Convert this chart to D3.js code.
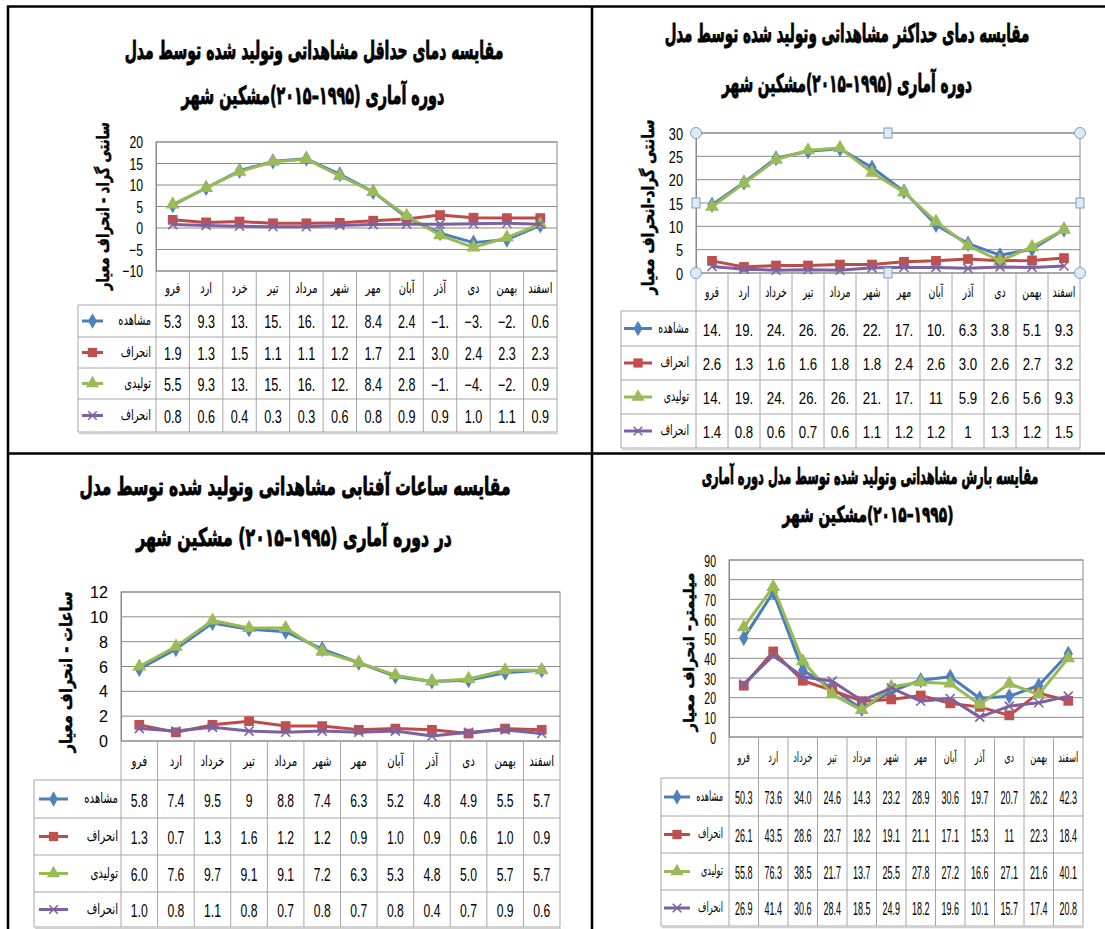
<!DOCTYPE html>
<html><head><meta charset="utf-8">
<script src="https://cdn.jsdelivr.net/npm/d3@7"></script>
<style>
body{margin:0;background:#fff;}
svg{display:block}
</style></head><body>
<svg id="c" width="1105" height="929"></svg>
<script>
// ---------------- DATA ----------------
const monthsShort = ["فرو","ارد","خرد","تیر","مرداد","شهر","مهر","آبان","آذر","دی","بهمن","اسفند"];
const monthsLong  = ["فرو","ارد","خرداد","تیر","مرداد","شهر","مهر","آبان","آذر","دی","بهمن","اسفند"];
const seriesNames = ["مشاهده","انحراف","تولیدی","انحراف"];

// Panel 1: minimum temperature
const minObs   = [5.3, 9.3, 13.3, 15.5, 16.1, 12.5, 8.4, 2.4, -1.2, -3.4, -2.7, 0.6];
const minObsSd = [1.9, 1.3, 1.5, 1.1, 1.1, 1.2, 1.7, 2.1, 3.0, 2.4, 2.3, 2.3];
const minGen   = [5.5, 9.3, 13.1, 15.4, 16.0, 12.1, 8.4, 2.8, -1.7, -4.5, -2.2, 0.9];
const minGenSd = [0.8, 0.6, 0.4, 0.3, 0.3, 0.6, 0.8, 0.9, 0.9, 1.0, 1.1, 0.9];
const minTicks = [-10, -5, 0, 5, 10, 15, 20];

// Panel 2: maximum temperature
const maxObs   = [14.6, 19.4, 24.6, 26.1, 26.6, 22.6, 17.5, 10.3, 6.3, 3.8, 5.1, 9.3];
const maxObsSd = [2.6, 1.3, 1.6, 1.6, 1.8, 1.8, 2.4, 2.6, 3.0, 2.6, 2.7, 3.2];
const maxGen   = [14.2, 19.2, 24.3, 26.3, 26.8, 21.5, 17.3, 11, 5.9, 2.6, 5.6, 9.3];
const maxGenSd = [1.4, 0.8, 0.6, 0.7, 0.6, 1.1, 1.2, 1.2, 1, 1.3, 1.2, 1.5];
const maxTicks = [0, 5, 10, 15, 20, 25, 30];

// Panel 3: sunshine hours
const sunObs   = [5.8, 7.4, 9.5, 9, 8.8, 7.4, 6.3, 5.2, 4.8, 4.9, 5.5, 5.7];
const sunObsSd = [1.3, 0.7, 1.3, 1.6, 1.2, 1.2, 0.9, 1.0, 0.9, 0.6, 1.0, 0.9];
const sunGen   = [6.0, 7.6, 9.7, 9.1, 9.1, 7.2, 6.3, 5.3, 4.8, 5.0, 5.7, 5.7];
const sunGenSd = [1.0, 0.8, 1.1, 0.8, 0.7, 0.8, 0.7, 0.8, 0.4, 0.7, 0.9, 0.6];
const sunTicks = [0, 2, 4, 6, 8, 10, 12];

// Panel 4: precipitation
const rainObs   = [50.3, 73.6, 34.0, 24.6, 14.3, 23.2, 28.9, 30.6, 19.7, 20.7, 26.2, 42.3];
const rainObsSd = [26.1, 43.5, 28.6, 23.7, 18.2, 19.1, 21.1, 17.1, 15.3, 11, 22.3, 18.4];
const rainGen   = [55.8, 76.3, 38.5, 21.7, 13.7, 25.5, 27.8, 27.2, 16.6, 27.1, 21.6, 40.1];
const rainGenSd = [26.9, 41.4, 30.6, 28.4, 18.5, 24.9, 18.2, 19.6, 10.1, 15.7, 17.4, 20.8];
const rainTicks = [0, 10, 20, 30, 40, 50, 60, 70, 80, 90];

const titles1 = ["مقایسه دمای حداقل مشاهداتی وتولید شده توسط مدل", "دوره آماری (۱۹۹۵–۲۰۱۵)مشکین شهر"];
const titles2 = ["مقایسه دمای حداکثر مشاهداتی وتولید شده توسط مدل", "دوره آماری (۱۹۹۵–۲۰۱۵)مشکین شهر"];
const titles3 = ["مقایسه ساعات آفتابی  مشاهداتی وتولید شده توسط مدل", "در دوره آماری (۱۹۹۵–۲۰۱۵) مشکین شهر"];
const titles4 = ["مقایسه بارش مشاهداتی وتولید شده توسط مدل دوره آماری", "(۱۹۹۵–۲۰۱۵)مشکین شهر"];
const yTitles = ["سانتی گراد - انحراف معیار", "سانتی گراد-انحراف معیار", "ساعات - انحراف معیار", "میلیمتر- انحراف معیار"];

// ---------------- STYLE / LAYOUT ----------------
const styles = [
  {line:"#4A7EBB", fill:"#4F81BD", marker:"diamond"},
  {line:"#BE4B48", fill:"#C0504D", marker:"square"},
  {line:"#98B954", fill:"#9BBB59", marker:"triangle"},
  {line:"#7D60A0", fill:"#8064A2", marker:"x"}
];
const AR = "'DejaVu Sans', sans-serif";
const NUM = "'Liberation Sans', Arial, sans-serif";

const panels = [
  {cats:monthsShort, series:[minObs,minObsSd,minGen,minGenSd], fmts:[".1f",".1f",".1f",".1f"], ticks:minTicks,
   x0:156, x1:557, yTop:142, yBot:271, tableLeft:78, rows:[305,337,368,399,432], maxChars:3,
   title:titles1, tX:[314,313], tY:[50,95], tW:[379,263], tFs:25,
   yTitle:yTitles[0], ytX:103, ytY:206, ytL:168, ytFs:17,
   numFs:18, numSx:0.7, tickFs:17, tickSx:0.72, catFs:15, catSx:0.66, legX:[82,103], legTx:151, handles:false},
  {cats:monthsLong, series:[maxObs,maxObsSd,maxGen,maxGenSd], fmts:[".1f",".1f",".1~f",".1~f"], ticks:maxTicks,
   x0:696, x1:1080, yTop:133, yBot:273, tableLeft:621, rows:[311,346,380,414,448], maxChars:3,
   title:titles2, tX:[847,847], tY:[33,83], tW:[365,250], tFs:25,
   yTitle:yTitles[1], ytX:649, ytY:207, ytL:175, ytFs:17,
   numFs:17, numSx:0.78, tickFs:17, tickSx:0.75, catFs:15, catSx:0.62, legX:[624,652], legTx:689, handles:true},
  {cats:monthsLong, series:[sunObs,sunObsSd,sunGen,sunGenSd], fmts:[".1~f",".1f",".1f",".1f"], ticks:sunTicks,
   x0:121, x1:560, yTop:592, yBot:741, tableLeft:34, rows:[780,818,855,892,927], maxChars:3,
   title:titles3, tX:[295,294], tY:[487,538], tW:[431,316], tFs:25,
   yTitle:yTitles[2], ytX:66, ytY:672, ytL:161, ytFs:17,
   numFs:19, numSx:0.64, tickFs:17, tickSx:0.95, catFs:15, catSx:0.68, legX:[39,68], legTx:118, handles:false},
  {cats:monthsLong, series:[rainObs,rainObsSd,rainGen,rainGenSd], fmts:[".1f",".1~f",".1f",".1f"], ticks:rainTicks,
   x0:729, x1:1083, yTop:560, yBot:737, tableLeft:661, rows:[778,816,853,890,926], maxChars:4,
   title:titles4, tX:[870,868], tY:[476,514], tW:[337,171], tFs:22,
   yTitle:yTitles[3], ytX:689, ytY:652, ytL:159, ytFs:15,
   numFs:18, numSx:0.5, tickFs:17, tickSx:0.62, catFs:14, catSx:0.58, legX:[664,690], legTx:723, handles:false}
];

const svg = d3.select("#c");

// scaled text helper: text drawn at origin inside a transformed group
function sText(parent, x, y, str, opts) {
  const g = parent.append("g").attr("transform", `translate(${x},${y})${opts.rot ? " rotate(" + opts.rot + ")" : ""}`);
  const t = g.append("text").text(str)
    .attr("font-family", opts.family).attr("font-size", opts.fs)
    .attr("font-weight", opts.bold ? "bold" : "normal")
    .attr("text-anchor", opts.anchor || "middle")
    .attr("dominant-baseline", "central")
    .attr("fill", opts.color || "#000");
  if (opts.heavy) t.attr("stroke", "#000").attr("stroke-width", opts.heavy).attr("paint-order", "stroke");
  if (opts.rtl) t.attr("direction", "rtl");
  let sx = opts.sx || 1;
  if (opts.width) { const L = t.node().getComputedTextLength(); sx = opts.width / L; }
  t.attr("transform", `scale(${sx},1)`);
  return t;
}

function marker(g, type, st, k) {
  k = k || 1;
  if (type === "x") {
    const r = 4.5 * k;
    g.append("path").attr("d", `M${-r},${-r}L${r},${r}M${-r},${r}L${r},${-r}`)
      .attr("stroke", st.fill).attr("stroke-width", 1.6).attr("fill", "none");
  } else {
    const sym = {diamond:d3.symbolDiamond, square:d3.symbolSquare, triangle:d3.symbolTriangle}[type];
    const size = {diamond:75, square:95, triangle:85}[type] * k * k;
    g.append("path").attr("d", d3.symbol(sym, size)()).attr("fill", st.fill);
  }
}

panels.forEach(p => {
  const G = svg.append("g");
  const x = d3.scaleBand().domain(p.cats).range([p.x0, p.x1]);
  const y = d3.scaleLinear().domain(d3.extent(p.ticks)).range([p.yBot, p.yTop]);
  const bw = x.bandwidth();
  const tableBottom = p.rows[p.rows.length - 1];

  // titles
  p.title.forEach((t, i) => sText(G, p.tX[i], p.tY[i], t, {family:AR, fs:p.tFs, bold:true, width:p.tW[i], rtl:true, heavy:0.9}));

  // y-axis title
  sText(G, p.ytX, p.ytY, p.yTitle, {family:AR, fs:p.ytFs, bold:true, width:p.ytL, rot:-90, rtl:true, heavy:0.5});

  // gridlines
  G.append("g").selectAll("line").data(p.ticks).join("line")
    .attr("x1", p.x0).attr("x2", p.x1).attr("y1", d => y(d)).attr("y2", d => y(d))
    .attr("stroke", "#8a8a8a").attr("stroke-width", 1);
  // plot border
  G.append("rect").attr("x", p.x0).attr("y", p.yTop).attr("width", p.x1 - p.x0).attr("height", p.yBot - p.yTop)
    .attr("fill", "none").attr("stroke", "#8a8a8a");

  // y axis labels via d3 axis
  const ax = G.append("g").attr("transform", `translate(${p.x0},0)`)
    .call(d3.axisLeft(y).tickValues(p.ticks).tickSize(0).tickPadding(13).tickFormat(d3.format("d")));
  ax.select(".domain").attr("stroke", "#8a8a8a");
  ax.selectAll(".tick text").each(function(d) {
    const tx = d3.select(this);
    tx.attr("font-family", NUM).attr("font-size", p.tickFs).attr("fill", "#000")
      .attr("dy", null).attr("dominant-baseline", "central")
      .attr("transform", `translate(-13,0) scale(${p.tickSx},1)`).attr("x", 0);
  });

  // table grid
  const tg = G.append("g").attr("stroke", "#a6a6a6").attr("stroke-width", 1);
  const colEdges = p.cats.map(c => x(c)).concat([p.x1]);
  tg.selectAll("line.v").data(colEdges).join("line")
    .attr("x1", d => d).attr("x2", d => d).attr("y1", p.yBot).attr("y2", tableBottom);
  tg.append("line").attr("x1", p.tableLeft).attr("x2", p.tableLeft).attr("y1", p.rows[0]).attr("y2", tableBottom);
  tg.selectAll("line.h").data(p.rows).join("line")
    .attr("x1", p.tableLeft).attr("x2", p.x1).attr("y1", d => d).attr("y2", d => d);
  G.append("line").attr("x1", p.tableLeft + 1).attr("x2", p.x1 + 1).attr("y1", tableBottom + 1.5).attr("y2", tableBottom + 1.5)
    .attr("stroke", "#d0d0d0").attr("stroke-width", 1.5);

  // category labels
  p.cats.forEach(c => sText(G, x(c) + bw / 2, (p.yBot + p.rows[0]) / 2, c, {family:AR, fs:p.catFs, sx:p.catSx}));

  // table rows: legend + values
  p.series.forEach((vals, si) => {
    const st = styles[si];
    const rc = (p.rows[si] + p.rows[si + 1]) / 2;
    const lg = G.append("g");
    lg.append("line").attr("x1", p.legX[0]).attr("x2", p.legX[1]).attr("y1", rc).attr("y2", rc)
      .attr("stroke", st.line).attr("stroke-width", 3);
    marker(lg.append("g").attr("transform", `translate(${(p.legX[0] + p.legX[1]) / 2},${rc})`), st.marker, st, 0.95);
    sText(G, p.legTx, rc - 1, seriesNames[si], {family:AR, fs:p.catFs, sx:p.catSx, anchor:"end"});
    const f = d3.format(p.fmts[si]);
    vals.forEach((v, i) => {
      let s = f(v);
      if (s.length > p.maxChars) s = s.slice(0, p.maxChars);
      sText(G, x(p.cats[i]) + bw / 2, rc + 1, s, {family:NUM, fs:p.numFs, sx:p.numSx});
    });
  });

  // series lines and markers
  const line = d3.line().x((d, i) => x(p.cats[i]) + bw / 2).y(d => y(d));
  p.series.forEach((vals, si) => {
    const st = styles[si];
    const sg = G.append("g");
    sg.append("path").attr("d", line(vals)).attr("fill", "none").attr("stroke", st.line)
      .attr("stroke-width", 3).attr("stroke-linejoin", "round");
    vals.forEach((v, i) => marker(sg.append("g").attr("transform", `translate(${x(p.cats[i]) + bw / 2},${y(v)})`), st.marker, st));
  });

  // selection handles
  if (p.handles) {
    const hg = G.append("g").attr("fill", "#dcebf5").attr("stroke", "#7f9fbf").attr("stroke-width", 1);
    const xm = (p.x0 + p.x1) / 2, ym = (p.yTop + p.yBot) / 2;
    [[p.x0, p.yTop], [p.x1, p.yTop], [p.x0, p.yBot], [p.x1, p.yBot]].forEach(([cx, cy]) =>
      hg.append("circle").attr("cx", cx).attr("cy", cy).attr("r", 5.5));
    [[xm, p.yTop], [p.x0, ym], [p.x1, ym], [xm, p.yBot]].forEach(([cx, cy]) =>
      hg.append("rect").attr("x", cx - 4).attr("y", cy - 5).attr("width", 8).attr("height", 10));
  }
});

// panel frame lines
const fr = svg.append("g").attr("stroke", "#000").attr("stroke-width", 2.5);
fr.append("line").attr("x1", 7).attr("x2", 1105).attr("y1", 6.5).attr("y2", 6.5);
fr.append("line").attr("x1", 8).attr("x2", 8).attr("y1", 6).attr("y2", 929);
fr.append("line").attr("x1", 592).attr("x2", 592).attr("y1", 6).attr("y2", 929);
fr.append("line").attr("x1", 8).attr("x2", 1105).attr("y1", 453.5).attr("y2", 453.5);
</script>
</body></html>
